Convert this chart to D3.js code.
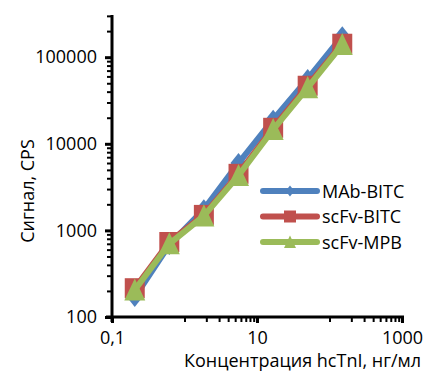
<!DOCTYPE html>
<html><head><meta charset="utf-8">
<script src="https://cdn.jsdelivr.net/npm/d3@7/dist/d3.min.js"></script>
<style>body{margin:0;background:#fff}svg{display:block}text{font-family:"Open Sans",sans-serif;fill:#000}</style>
</head><body><svg id="c" width="432" height="374"></svg>
<script>
const concentrations = [0.206, 0.617, 1.85, 5.56, 16.7, 50, 150];
const mabBITC = [170, 680, 1750, 6000, 19000, 56000, 175000];
const scfvBITC = [215, 735, 1510, 4500, 15300, 46800, 143000];
const scfvMPB = [205, 700, 1470, 4300, 14600, 44500, 140000];
const seriesNames = ["MAb-BITC", "scFv-BITC", "scFv-MPB"];
const xTickLabels = ["0,1", "10", "1000"];
const yTickLabels = ["100", "1000", "10000", "100000"];
const xMajor = [0.1, 10, 1000];
const yMajor = [100, 1000, 10000, 100000];

const series = [
  {name: seriesNames[0], values: mabBITC, color: "#4F81BD", marker: "diamond"},
  {name: seriesNames[1], values: scfvBITC, color: "#C0504D", marker: "square"},
  {name: seriesNames[2], values: scfvMPB, color: "#9BBB59", marker: "triangle"}
];

const svg = d3.select("#c");
const x = d3.scaleLog().domain([0.1, 1000]).range([112, 402]);
const y = d3.scaleLog().domain([100, 307000]).range([317, 15]);

// minor ticks
const xMinor = [];
[1, 100].forEach(b => { for (let k = 1; k <= 9; k++) xMinor.push(b * k); });
const yMinor = [];
[100, 1000, 10000, 100000].forEach(b => { for (let k = 2; k <= 9; k++) if (b * k <= 307000) yMinor.push(b * k); });

// Y axis
const yAxis = svg.append("g").attr("transform", "translate(112,0)");
yAxis.append("g").call(d3.axisLeft(y).tickValues(yMinor).tickSize(5).tickFormat(""))
  .call(g => g.select(".domain").remove())
  .selectAll("line").attr("stroke", "#000").attr("stroke-width", 2);
yAxis.append("g").call(d3.axisLeft(y).tickValues(yMajor).tickSize(7).tickPadding(8)
    .tickFormat((d, i) => yTickLabels[i]))
  .call(g => g.select(".domain").remove())
  .call(g => g.selectAll("line").attr("stroke", "#000").attr("stroke-width", 3))
  .call(g => g.selectAll("text").style("font-size", "18px").style("font-family", "'Open Sans',sans-serif"));
yAxis.append("line").attr("x1", 0).attr("x2", 0).attr("y1", 15).attr("y2", 322)
  .attr("stroke", "#000").attr("stroke-width", 3);

// X axis
const xAxis = svg.append("g").attr("transform", "translate(0,317)");
xAxis.append("g").call(d3.axisBottom(x).tickValues(xMinor).tickSize(5).tickFormat(""))
  .call(g => g.select(".domain").remove())
  .selectAll("line").attr("stroke", "#000").attr("stroke-width", 2);
xAxis.append("g").call(d3.axisBottom(x).tickValues(xMajor).tickSize(6).tickPadding(8)
    .tickFormat((d, i) => xTickLabels[i]))
  .call(g => g.select(".domain").remove())
  .call(g => g.selectAll("line").attr("stroke", "#000").attr("stroke-width", 3))
  .call(g => g.selectAll("text").style("font-size", "18px").style("font-family", "'Open Sans',sans-serif"));
xAxis.append("line").attr("x1", 106).attr("x2", 404).attr("y1", 0).attr("y2", 0)
  .attr("stroke", "#000").attr("stroke-width", 3);

// Titles
svg.append("text").attr("transform", "translate(34,191) rotate(-90)")
  .attr("text-anchor", "middle").style("font-size", "18px").text("Сигнал, CPS");
svg.append("text").attr("x", 184).attr("y", 367)
  .style("font-size", "18px").text("Концентрация hcTnI, нг/мл");

function markerPath(type, s) {
  if (type === "diamond") return `M0,${-s}L${s * 0.8},0L0,${s}L${-s * 0.8},0Z`;
  if (type === "square") return `M${-s},${-s}H${s}V${s}H${-s}Z`;
  return `M0,${-s * 1.1}L${s},${s}L${-s},${s}Z`;
}
const markerSize = {diamond: 10, square: 10, triangle: 10.5};
const legendSize = {diamond: 5.5, square: 6, triangle: 6};

const line = d3.line().x(d => x(d[0])).y(d => y(d[1]));
series.forEach(s => {
  const pts = concentrations.map((c, i) => [c, s.values[i]]);
  const g = svg.append("g");
  g.append("path").datum(pts).attr("d", line).attr("fill", "none")
    .attr("stroke", s.color).attr("stroke-width", 6).attr("stroke-linejoin", "round");
  g.selectAll("path.m").data(pts).join("path").attr("class", "m")
    .attr("transform", d => `translate(${x(d[0])},${y(d[1])})`)
    .attr("d", markerPath(s.marker, markerSize[s.marker])).attr("fill", s.color);
});

// Legend
series.forEach((s, i) => {
  const ly = 191 + i * 25.5;
  const g = svg.append("g").attr("transform", `translate(0,${ly})`);
  g.append("line").attr("x1", 263).attr("x2", 317).attr("stroke", s.color)
    .attr("stroke-width", 6).attr("stroke-linecap", "round");
  g.append("path").attr("transform", "translate(290,0)")
    .attr("d", markerPath(s.marker, legendSize[s.marker])).attr("fill", s.color);
  g.append("text").attr("x", 322).attr("y", 6.5).style("font-size", "18px").text(s.name);
});
</script></body></html>
